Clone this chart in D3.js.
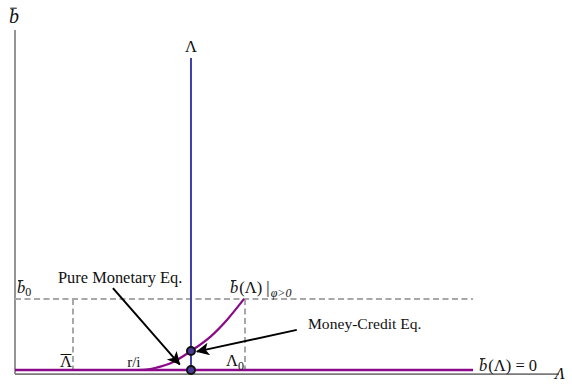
<!DOCTYPE html>
<html>
<head>
<meta charset="utf-8">
<script src="https://cdn.jsdelivr.net/npm/d3@7"></script>
<style>
  html, body { margin: 0; padding: 0; background: #fff; }
  svg { display: block; }
  text { font-family: "Liberation Serif", "Times New Roman", serif; fill: #111; }
</style>
</head>
<body>
<svg id="chart" width="572" height="384"></svg>
<script>
// Key levels of the diagram (abstract units: Λ on x, b̄ on y)
const lambdaBar = 0.1066;     // Λ̄
const lambdaRI = 0.224;       // r/i, where b̄(Λ) leaves zero
const lambdaStar = 0.3235;    // vertical Λ line
const lambda0 = 0.421;        // Λ0
const lambdaEnd = 0.842;      // end of the b̄(Λ)=0 branch
const b0 = 0.209;             // b̄0
const lambdaTop = 0.918;      // top of the Λ line

// b̄(Λ) | φ>0 branch, read point by point
const curveLambda = [0.224, 0.245, 0.26, 0.29, 0.3235, 0.36, 0.39, 0.421];
const curveB      = [0.0,   0.002, 0.007, 0.023, 0.056, 0.099, 0.148, 0.209];

// Equilibrium points
const eqLambda = [lambdaStar, lambdaStar];
const eqB = [0.056, 0.0];

// Annotation arrows: [fromΛ, fromB, toΛ, toB]
const arrowPure = [0.180, 0.241, 0.303, 0.016];
const arrowCredit = [0.518, 0.118, 0.334, 0.054];

const svg = d3.select("#chart");
const x = d3.scaleLinear().domain([0, 1]).range([15, 559]);
const y = d3.scaleLinear().domain([0, 1]).range([370, 30]);

const purple = "#8a0a8a";
const blue = "#4040a8";
const dashGray = "#a8a8a8";
const serif = "'Liberation Serif', 'Times New Roman', serif";

// axes
svg.append("line").attr("x1", x(0)).attr("x2", x(0)).attr("y1", y(1)).attr("y2", y(-0.012))
  .attr("stroke", "#7a7a7a").attr("stroke-width", 1.6);
svg.append("line").attr("x1", x(0)).attr("x2", x(1)).attr("y1", y(-0.012)).attr("y2", y(-0.012))
  .attr("stroke", "#7a7a7a").attr("stroke-width", 1.6);

// dashed reference lines
const dash = svg.append("g").attr("stroke", dashGray).attr("stroke-width", 2).attr("stroke-dasharray", "6,3.5").attr("fill", "none");
dash.append("line").attr("x1", x(0)).attr("x2", x(lambdaEnd)).attr("y1", y(b0)).attr("y2", y(b0));
dash.append("line").attr("x1", x(lambdaBar)).attr("x2", x(lambdaBar)).attr("y1", y(b0)).attr("y2", y(0));
dash.append("line").attr("x1", x(lambda0) + 1).attr("x2", x(lambda0) + 1).attr("y1", y(b0)).attr("y2", y(0));

// Λ vertical line
svg.append("line").attr("x1", x(lambdaStar)).attr("x2", x(lambdaStar)).attr("y1", y(lambdaTop)).attr("y2", y(0))
  .attr("stroke", blue).attr("stroke-width", 2);

// b̄(Λ)=0 branch
svg.append("line").attr("x1", x(0)).attr("x2", x(lambdaEnd)).attr("y1", y(0)).attr("y2", y(0))
  .attr("stroke", purple).attr("stroke-width", 2.6);

// rising branch
const pts = curveLambda.map((l, i) => [l, curveB[i]]);
svg.append("path").datum(pts)
  .attr("d", d3.line().x(d => x(d[0])).y(d => y(d[1])).curve(d3.curveMonotoneX))
  .attr("fill", "none").attr("stroke", purple).attr("stroke-width", 2.2);

// arrows
svg.append("defs").append("marker").attr("id", "head")
  .attr("viewBox", "0 0 10 10").attr("refX", 9.5).attr("refY", 5)
  .attr("markerWidth", 9).attr("markerHeight", 6.5).attr("markerUnits", "strokeWidth")
  .attr("orient", "auto")
  .append("path").attr("d", "M0,0 L10,5 L0,10 L2.5,5 Z").attr("fill", "#000");
[arrowPure, arrowCredit].forEach(a => {
  svg.append("line").attr("x1", x(a[0])).attr("y1", y(a[1])).attr("x2", x(a[2])).attr("y2", y(a[3]))
    .attr("stroke", "#000").attr("stroke-width", 2).attr("marker-end", "url(#head)");
});

// equilibrium markers
svg.selectAll("circle.eq").data(eqLambda).enter().append("circle").attr("class", "eq")
  .attr("cx", d => x(d)).attr("cy", (d, i) => y(eqB[i])).attr("r", 4)
  .attr("fill", "#4a3a9a").attr("stroke", "#111").attr("stroke-width", 2);

// labels
function txt(px, py, size, s, italic) {
  return svg.append("text").attr("x", px).attr("y", py).attr("font-family", serif)
    .attr("font-size", size).attr("font-style", italic ? "italic" : "normal").text(s);
}
function barredB(px, py, size) {
  const t = txt(px, py, size, "b", true);
  const bb = t.node().getBBox();
  svg.append("line").attr("x1", bb.x + bb.width * 0.12).attr("x2", bb.x + bb.width * 0.78)
    .attr("y1", bb.y + size * 0.16).attr("y2", bb.y + size * 0.16).attr("stroke", "#111").attr("stroke-width", 1);
  return bb;
}

// y axis title
barredB(9, 23, 20);
// x axis title
txt(555, 379, 16, "Λ", true);

// Λ line label
txt(x(lambdaStar), y(lambdaTop) - 6, 16.5, "Λ").attr("text-anchor", "middle");

// b̄0
const bb0 = barredB(17, y(b0) - 6, 16.5);
txt(bb0.x + bb0.width, y(b0) - 3, 12, "0");

// Λ̄
const lb = txt(x(lambdaBar) - 1, y(0) - 3, 16.5, "Λ").attr("text-anchor", "end");
{
  const bb = lb.node().getBBox();
  svg.append("line").attr("x1", bb.x + 0.5).attr("x2", bb.x + bb.width - 0.5).attr("y1", bb.y + 2.5).attr("y2", bb.y + 2.5)
    .attr("stroke", "#111").attr("stroke-width", 1);
}

// r/i
txt(x(lambdaRI) - 3, y(0) - 3, 15, "r/i").attr("text-anchor", "middle");

// Λ0
const l0 = txt(x(lambda0) - 18, y(0) - 4, 16.5, "Λ");
{
  const b = l0.node().getBBox();
  txt(b.x + b.width, y(0) - 0.5, 12, "0");
}

// b̄(Λ) |φ>0
{
  const bb = barredB(x(lambda0) - 14, y(b0) - 6, 16.5);
  const t = txt(bb.x + bb.width + 1, y(b0) - 6, 16.5, "(Λ) |");
  const tb = t.node().getBBox();
  txt(tb.x + tb.width + 1, y(b0) - 2, 12, "φ>0", true);
}

// b̄(Λ) = 0
{
  const bb = barredB(x(lambdaEnd) + 6, y(0) + 1, 16.5);
  txt(bb.x + bb.width + 1, y(0) + 1, 16.5, "(Λ) = 0");
}

// equilibrium annotations
txt(58, 283, 16.4, "Pure Monetary Eq.");
txt(308, 329, 15.6, "Money-Credit Eq.");
</script>
</body>
</html>
